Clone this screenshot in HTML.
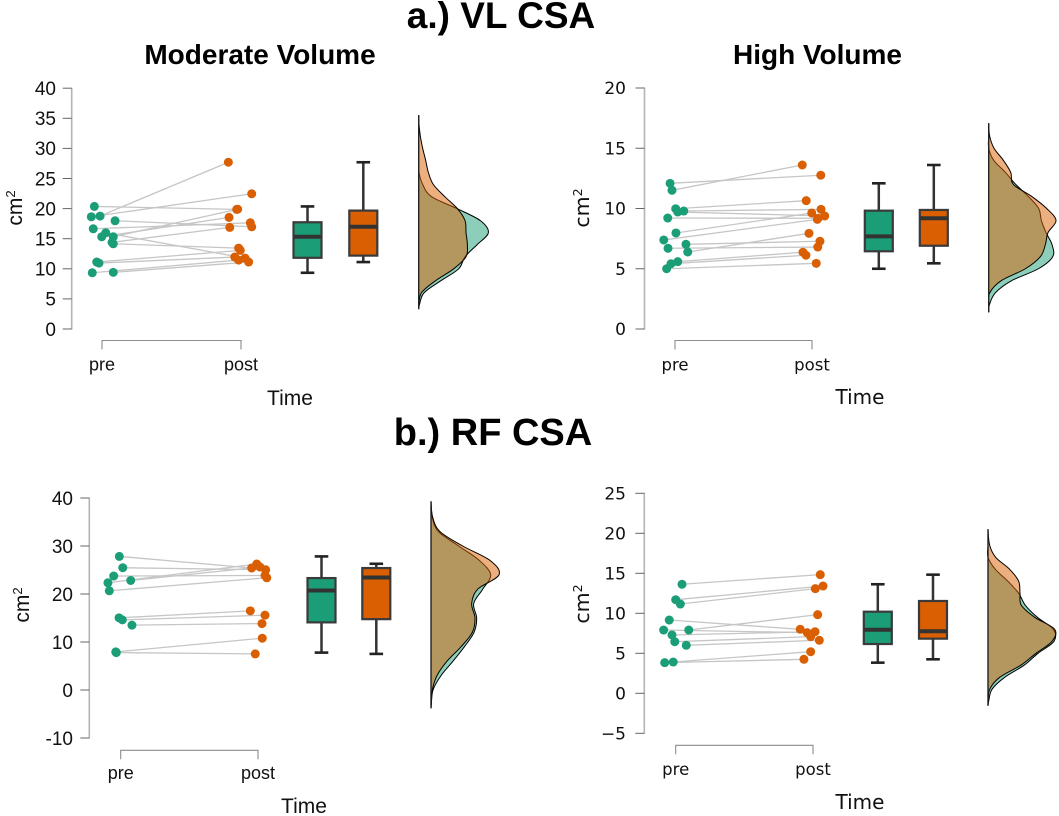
<!DOCTYPE html>
<html lang="en">
<head>
<meta charset="utf-8">
<title>VL and RF CSA raincloud plots</title>
<style>
html,body{margin:0;padding:0;background:#fff;}
svg{display:block;}
text{fill:#111;}
.helv{font-family:"Liberation Sans",sans-serif;}
.lucida{font-family:"DejaVu Sans","Liberation Sans",sans-serif;}
.title{font-family:"Liberation Sans",sans-serif;font-weight:700;text-anchor:middle;fill:#000;}
</style>
</head>
<body>
<svg id="figure" xmlns="http://www.w3.org/2000/svg" width="1059" height="816" viewBox="0 0 1059 816">
  <text class="title" x="501" y="28" font-size="37">a.) VL CSA</text>
  <text class="title" x="493" y="445" font-size="38">b.) RF CSA</text>
  <text class="title" x="260" y="64" font-size="28">Moderate Volume</text>
  <text class="title" x="817.5" y="64" font-size="28">High Volume</text>
</svg>
<script>
const categories = ['pre', 'post'];
const xAxisTitle = 'Time';

/* a.) VL CSA, Moderate Volume */
const aTicks = [0, 5, 10, 15, 20, 25, 30, 35, 40];
const aTickLabels = ['0', '5', '10', '15', '20', '25', '30', '35', '40'];
const aPre = [18.76, 18.64, 20.36, 15.32, 15.32, 17.98, 16.65, 14.39, 14.16, 11.12, 15.98, 10.95, 9.34, 9.41];
const aPost = [27.7, 22.46, 19.87, 19.9, 18.54, 16.98, 17.64, 16.88, 13.44, 13.06, 11.78, 11.95, 11.45, 11.12];
const aPreJitter = [-0.014, -0.077, -0.055, 0.081, -0.002, 0.094, -0.063, 0.072, 0.081, -0.038, 0.027, -0.022, -0.07, 0.081];
const aPostJitter = [-0.091, 0.077, -0.031, -0.024, -0.086, 0.077, 0.067, -0.081, -0.017, -0.005, 0.029, -0.045, -0.017, 0.055];
const aBoxPre = [9.34, 11.83, 15.32, 17.73, 20.36];
const aBoxPost = [11.12, 12.19, 16.98, 19.67, 27.7];
const aGrid = [3.3, 4, 6, 8, 10, 12, 14, 16, 18, 20, 22, 24, 26, 28, 30, 32, 34, 35.5];
const aDensPre = [0, 2, 16, 66, 120, 139, 175, 209, 185, 115, 38, 12, 1, 0, 0, 0, 0, 0];
const aDensPost = [0, 1, 8, 50, 105, 142, 146, 142, 139, 116, 78, 44, 29, 21, 12, 5, 1, 0];

/* a.) VL CSA, High Volume */
const bTicks = [0, 5, 10, 15, 20];
const bTickLabels = ['0', '5', '10', '15', '20'];
const bPre = [11.51, 12.09, 9.98, 9.79, 9.71, 9.21, 7.97, 7.39, 7.03, 6.7, 6.39, 5.59, 5.42, 5.0];
const bPost = [13.61, 12.76, 10.65, 9.93, 9.38, 9.19, 9.63, 9.1, 7.28, 6.8, 7.94, 6.37, 6.12, 5.45];
const bPreJitter = [-0.022, -0.036, 0.005, 0.064, 0.02, -0.053, 0.007, -0.082, 0.08, -0.051, 0.093, 0.02, -0.029, -0.061];
const bPostJitter = [-0.071, 0.064, -0.042, 0.066, 0.093, 0.044, -0.002, 0.039, 0.058, 0.042, -0.022, -0.066, -0.044, 0.031];
const bBoxPre = [5.0, 6.45, 7.69, 9.82, 12.09];
const bBoxPost = [5.45, 6.91, 9.19, 9.88, 13.61];
const bGrid = [1.39, 2, 3, 4, 5, 6, 7, 8, 9, 10, 11, 12, 13, 14, 15, 16, 17.07];
const bDensPre = [0, 2, 20, 68, 149, 192, 190, 172, 158, 150, 119, 81, 50, 15, 0, 0, 0];
const bDensPost = [0, 0, 3, 37, 110, 155, 170, 178, 202, 174, 129, 74, 66, 44, 16, 3, 0];

/* b.) RF CSA, Moderate Volume */
const cTicks = [-10, 0, 10, 20, 30, 40];
const cTickLabels = ['-10', '0', '10', '20', '30', '40'];
const cPre = [27.83, 25.47, 23.74, 22.34, 22.82, 20.67, 15.03, 14.61, 13.51, 7.93, 7.79];
const cPost = [25.41, 25.05, 23.86, 26.24, 25.62, 23.38, 16.49, 15.59, 13.84, 10.79, 7.52];
const cPreJitter = [-0.01, 0.015, -0.051, -0.093, 0.073, -0.083, -0.012, 0.012, 0.082, -0.036, -0.032];
const cPostJitter = [-0.046, 0.056, 0.051, -0.009, 0.015, 0.064, -0.056, 0.051, 0.029, 0.031, -0.02];
const cBoxPre = [7.79, 14.09, 20.73, 23.32, 27.83];
const cBoxPost = [7.52, 14.76, 23.44, 25.41, 26.3];
const cGrid = [-3.8, -3, 0, 3, 6, 9, 12, 15, 18, 21, 24, 27, 30, 33, 36, 39.3];
const cDensPre = [0, 1, 6, 30, 66, 100, 129, 137, 128, 155, 179, 145, 83, 22, 4, 0];
const cDensPost = [0, 1, 4, 18, 48, 90, 124, 132, 122, 140, 204, 177, 95, 27, 5, 0];

/* b.) RF CSA, High Volume */
const dTicks = [-5, 0, 5, 10, 15, 20, 25];
const dTickLabels = ['\u22125', '0', '5', '10', '15', '20', '25'];
const dPre = [13.63, 11.7, 11.16, 9.16, 7.91, 7.91, 7.29, 6.45, 6.0, 3.83, 3.91];
const dPost = [14.83, 13.41, 13.08, 8.0, 7.58, 9.83, 7.7, 7.08, 6.63, 4.25, 5.2];
const dPreJitter = [0.046, 0, 0.034, -0.047, -0.088, 0.095, -0.027, -0.007, 0.077, -0.08, -0.018];
const dPostJitter = [0.053, 0.073, 0.017, -0.093, -0.042, 0.034, 0.015, -0.017, 0.046, -0.066, -0.017];
const dBoxPre = [3.83, 6.16, 7.95, 10.2, 13.63];
const dBoxPost = [4.25, 6.83, 7.75, 11.54, 14.83];
const dGrid = [-1.55, -1, 0.5, 2, 3.5, 5, 6.5, 8, 9.5, 11, 12.5, 14, 15.5, 17, 18.5, 20.5];
const dDensPre = [0, 2, 12, 50, 108, 150, 198, 196, 148, 112, 92, 60, 22, 0, 0, 0];
const dDensPost = [0, 1, 5, 35, 98, 144, 192, 200, 140, 100, 96, 92, 65, 23, 5, 0];

const PRE_COLOR = '#1b9e77';
const POST_COLOR = '#d95f02';
const svg = document.getElementById('figure');

function svgEl(tag, attrs, parent) {
  const e = document.createElementNS('http://www.w3.org/2000/svg', tag);
  for (const k in attrs) e.setAttribute(k, attrs[k]);
  parent.appendChild(e);
  return e;
}

function smoothPath(pts) {
  let d = '';
  for (let i = 0; i < pts.length - 1; i++) {
    const p0 = pts[Math.max(i - 1, 0)];
    const p1 = pts[i];
    const p2 = pts[i + 1];
    const p3 = pts[Math.min(i + 2, pts.length - 1)];
    const c1x = p1[0] + (p2[0] - p0[0]) / 6;
    const c1y = p1[1] + (p2[1] - p0[1]) / 6;
    const c2x = p2[0] - (p3[0] - p1[0]) / 6;
    const c2y = p2[1] - (p3[1] - p1[1]) / 6;
    d += (i === 0 ? 'M' + p1[0] + ',' + p1[1] : '') + 'C' + c1x.toFixed(2) + ',' + c1y.toFixed(2) + ' ' + c2x.toFixed(2) + ',' + c2y.toFixed(2) + ' ' + p2[0].toFixed(2) + ',' + p2[1].toFixed(2);
  }
  return d;
}

function drawPanel(p) {
  const yScale = v => p.y0 - v * p.pxPerUnit;
  const xScale = c => p.xPre + c * (p.xPost - p.xPre);
  const densX = d => p.densBase + d / 3;
  const g = svgEl('g', { class: p.fontClass }, svg);
  
  

  /* y axis */
  const yAxis = svgEl('line', { x1: p.yAxisX, x2: p.yAxisX, y1: yScale(p.ticks[0]) + 0.5, y2: yScale(p.ticks[p.ticks.length - 1]) - 0.5, stroke: '#b4b4b4', 'stroke-width': 1.6 }, g);
  
  
  p.ticks.forEach((t, i) => {
    const tick = svgEl('line', { x1: p.yAxisX - 9, x2: p.yAxisX, y1: yScale(t), y2: yScale(t), stroke: '#666', 'stroke-width': 1 }, g);
    
    
    const label = svgEl('text', { x: p.yLabelX, y: yScale(t) + p.tickSize * 0.36, 'text-anchor': 'end', 'font-size': p.tickSize }, g);
    label.textContent = p.tickLabels[i];
    
    
  });

  /* y axis title */
  const yTitle = svgEl('text', { transform: 'translate(' + p.yTitleX + ',' + p.yTitleY + ') rotate(-90)', 'text-anchor': 'middle', 'font-size': p.yTitleSize }, g);
  
  
  yTitle.appendChild(document.createTextNode('cm'));
  const sup = svgEl('tspan', { dy: -7, 'font-size': p.yTitleSize * 0.62 }, yTitle);
  sup.textContent = '2';

  /* x axis */
  const xAxis = svgEl('path', { d: 'M' + p.xPre + ',' + (p.xAxisY + 9) + 'V' + p.xAxisY + 'H' + p.xPost + 'V' + (p.xAxisY + 9), fill: 'none', stroke: '#8c8c8c', 'stroke-width': 1.1 }, g);
  
  
  categories.forEach((c, i) => {
    const label = svgEl('text', { x: xScale(i), y: p.xLabelY, 'text-anchor': 'middle', 'font-size': p.catSize }, g);
    label.textContent = c;
    
    
  });
  const xTitle = svgEl('text', { x: p.xTitleX, y: p.xTitleY, 'text-anchor': 'middle', 'font-size': p.xTitleSize }, g);
  xTitle.textContent = xAxisTitle;
  
  

  /* paired lines */
  p.pre.forEach((v, i) => {
    const link = svgEl('line', { x1: xScale(0 + p.preJitter[i]), y1: yScale(v), x2: xScale(1 + p.postJitter[i]), y2: yScale(p.post[i]), stroke: '#c6c6c6', 'stroke-width': 1.3 }, g);
    
    
  });

  /* points */
  p.pre.forEach((v, i) => {
    const pt = svgEl('circle', { cx: xScale(0 + p.preJitter[i]), cy: yScale(v), r: 4.5, fill: PRE_COLOR }, g);
    
    
  });
  p.post.forEach((v, i) => {
    const pt = svgEl('circle', { cx: xScale(1 + p.postJitter[i]), cy: yScale(v), r: 4.5, fill: POST_COLOR }, g);
    
    
  });

  /* box plots */
  [[p.boxPre, p.boxPreX, PRE_COLOR, 'pre'], [p.boxPost, p.boxPostX, POST_COLOR, 'post']].forEach(b => {
    const s = b[0], cx = b[1], col = b[2];
    const group = svgEl('g', {}, g);
    
    
    const whisk = svgEl('line', { x1: cx, x2: cx, y1: yScale(s[0]), y2: yScale(s[4]), stroke: '#333', 'stroke-width': 2.5 }, group);
    
    
    [s[0], s[4]].forEach(v => {
      const cap = svgEl('line', { x1: cx - 6.8, x2: cx + 6.8, y1: yScale(v), y2: yScale(v), stroke: '#222', 'stroke-width': 2.6 }, group);
      
      
    });
    const rect = svgEl('rect', { x: cx - 14, width: 28, y: yScale(s[3]), height: yScale(s[1]) - yScale(s[3]), fill: col, stroke: '#3a3a3a', 'stroke-width': 2.2 }, group);
    
    
    const med = svgEl('line', { x1: cx - 14, x2: cx + 14, y1: yScale(s[2]), y2: yScale(s[2]), stroke: '#333', 'stroke-width': 4 }, group);
    
    
  });

  /* density clouds */
  const top = p.grid[p.grid.length - 1];
  const bottom = p.grid[0];
  const prePts = p.grid.map((v, i) => [densX(p.densPre[i]), yScale(v)]);
  const postPts = p.grid.map((v, i) => [densX(p.densPost[i]), yScale(v)]);
  const preCloud = svgEl('path', { d: smoothPath(prePts), fill: PRE_COLOR, 'fill-opacity': 0.5, stroke: '#000', 'stroke-width': 1 }, g);
  
  
  const postCloud = svgEl('path', { d: smoothPath(postPts), fill: POST_COLOR, 'fill-opacity': 0.5, stroke: '#000', 'stroke-width': 1 }, g);
  
  
  const base = svgEl('line', { x1: p.densBase, x2: p.densBase, y1: yScale(top), y2: yScale(bottom), stroke: '#222', 'stroke-width': 1.4 }, g);
  
  
}

drawPanel({ name: 'panel-vl-moderate-volume', fontClass: 'helv',
  ticks: aTicks, tickLabels: aTickLabels, pre: aPre, post: aPost, preJitter: aPreJitter, postJitter: aPostJitter,
  boxPre: aBoxPre, boxPost: aBoxPost, grid: aGrid, densPre: aDensPre, densPost: aDensPost,
  y0: 329, pxPerUnit: 6.02, yAxisX: 71.7, yLabelX: 56, tickSize: 19,
  xPre: 102, xPost: 241, xAxisY: 340.5, xLabelY: 370.5, catSize: 18, xTitleX: 290, xTitleY: 405, xTitleSize: 21,
  yTitleX: 22, yTitleY: 208, yTitleSize: 21, boxPreX: 307.5, boxPostX: 363.3, densBase: 418.7 });

drawPanel({ name: 'panel-vl-high-volume', fontClass: 'lucida',
  ticks: bTicks, tickLabels: bTickLabels, pre: bPre, post: bPost, preJitter: bPreJitter, postJitter: bPostJitter,
  boxPre: bBoxPre, boxPost: bBoxPost, grid: bGrid, densPre: bDensPre, densPost: bDensPost,
  y0: 329, pxPerUnit: 12.05, yAxisX: 644.5, yLabelX: 626, tickSize: 17,
  xPre: 675, xPost: 812, xAxisY: 340.5, xLabelY: 370.5, catSize: 16.5, xTitleX: 860, xTitleY: 404, xTitleSize: 20,
  yTitleX: 589, yTitleY: 208, yTitleSize: 20.5, boxPreX: 878.8, boxPostX: 933.8, densBase: 988.7 });

drawPanel({ name: 'panel-rf-moderate-volume', fontClass: 'helv',
  ticks: cTicks, tickLabels: cTickLabels, pre: cPre, post: cPost, preJitter: cPreJitter, postJitter: cPostJitter,
  boxPre: cBoxPre, boxPost: cBoxPost, grid: cGrid, densPre: cDensPre, densPost: cDensPost,
  y0: 690, pxPerUnit: 4.8, yAxisX: 89.3, yLabelX: 73, tickSize: 19,
  xPre: 120.7, xPost: 258, xAxisY: 750.3, xLabelY: 779, catSize: 18, xTitleX: 304, xTitleY: 813, xTitleSize: 21,
  yTitleX: 29, yTitleY: 605, yTitleSize: 21, boxPreX: 321.5, boxPostX: 376.3, densBase: 431 });

drawPanel({ name: 'panel-rf-high-volume', fontClass: 'lucida',
  ticks: dTicks, tickLabels: dTickLabels, pre: dPre, post: dPost, preJitter: dPreJitter, postJitter: dPostJitter,
  boxPre: dBoxPre, boxPost: dBoxPost, grid: dGrid, densPre: dDensPre, densPost: dDensPost,
  y0: 693.3, pxPerUnit: 8, yAxisX: 644.3, yLabelX: 626, tickSize: 17,
  xPre: 675.7, xPost: 813, xAxisY: 745.3, xLabelY: 775, catSize: 16.5, xTitleX: 860, xTitleY: 809, xTitleSize: 20,
  yTitleX: 589, yTitleY: 604, yTitleSize: 20.5, boxPreX: 877.8, boxPostX: 933, densBase: 988 });
</script>
</body>
</html>
